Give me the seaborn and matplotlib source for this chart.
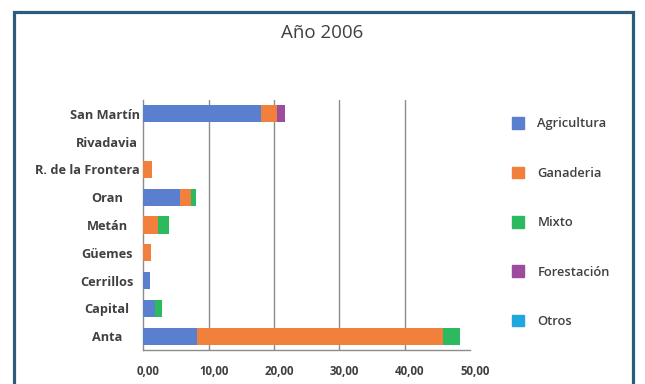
import pandas as pd
import seaborn as sns
import matplotlib.pyplot as plt
from matplotlib.patches import Rectangle, Patch
from matplotlib.transforms import ScaledTranslation

# datos (Año 2006)
departamentos = ["San Martín", "Rivadavia", "R. de la Frontera", "Oran", "Metán",
                 "Güemes", "Cerrillos", "Capital", "Anta"]
agricultura = [18.0, 0.0, 0.0, 5.6, 0.0, 0.0, 1.0, 1.8, 8.2]
ganaderia = [2.5, 0.0, 1.3, 1.7, 2.3, 1.2, 0.0, 0.0, 37.7]
mixto = [0.0, 0.0, 0.0, 0.8, 1.6, 0.0, 0.0, 1.1, 2.5]
forestacion = [1.2, 0.0, 0.0, 0.0, 0.0, 0.0, 0.0, 0.0, 0.0]
otros = [0.0, 0.0, 0.0, 0.0, 0.0, 0.0, 0.0, 0.0, 0.0]

series = ["Agricultura", "Ganaderia", "Mixto", "Forestación", "Otros"]
colores = ["#5b7fcf", "#f0803c", "#2dba5e", "#9d4c9d", "#1fa8e0"]
xticks = [0, 10, 20, 30, 40, 50]

df = pd.DataFrame({"Agricultura": agricultura, "Ganaderia": ganaderia, "Mixto": mixto,
                   "Forestación": forestacion, "Otros": otros}, index=departamentos)
acum = df[series].cumsum(axis=1)

sns.set_style("white")
plt.rcParams["font.family"] = ["Open Sans", "DejaVu Sans"]

fig = plt.figure(figsize=(6.45, 3.84), dpi=100)
ax = fig.add_axes([0.222, 0.088, 0.507, 0.652])

# barras apiladas: se dibuja el acumulado de atras hacia adelante
for s, c in reversed(list(zip(series, colores))):
    d = pd.DataFrame({"dep": departamentos, "val": acum[s].values})
    sns.barplot(data=d, y="dep", x="val", order=departamentos, color=c,
                width=0.62, saturation=1, linewidth=0, ax=ax, zorder=3)

ax.set_xlim(0, 50)
ax.set_ylim(8.5, -0.5)
ax.set_xticks(xticks)
ax.set_xticklabels([f"{t:.2f}".replace(".", ",") for t in xticks])
ax.set_xlabel("")
ax.set_ylabel("")
# lineas de division solo en 10..40
for t in xticks[1:-1]:
    ax.axvline(t, color="#8c8c8c", linewidth=1, zorder=0)
ax.tick_params(axis="x", length=4, color="#8c8c8c", pad=7, labelsize=8.3, labelcolor="#404040")
ax.tick_params(axis="y", length=0, pad=26, labelsize=9.2, labelcolor="#404040")
for lab in ax.get_xticklabels():
    lab.set_fontweight("bold")
    lab.set_transform(lab.get_transform() + ScaledTranslation(5 / 100, 0, fig.dpi_scale_trans))
for lab in ax.get_yticklabels():
    lab.set_fontweight("bold")
    lab.set_horizontalalignment("center")

# etiquetas centradas, pero sin pasar del eje (la mas larga se corre a la izquierda)
fig.canvas.draw()
renderer = fig.canvas.get_renderer()
x_eje = ax.transAxes.transform((0, 0))[0]
for lab in ax.get_yticklabels():
    bb = lab.get_window_extent(renderer)
    exceso = bb.x1 - (x_eje - 3)
    if exceso > 0:
        lab.set_transform(lab.get_transform() + ScaledTranslation(-exceso / 100, 0, fig.dpi_scale_trans))

for side in ["top", "right"]:
    ax.spines[side].set_visible(False)
for side in ["left", "bottom"]:
    ax.spines[side].set_color("#8c8c8c")
    ax.spines[side].set_linewidth(1)

fig.text(0.5, 0.915, "Año 2006", ha="center", va="center", fontsize=13.5, color="#404040")

handles = [Patch(facecolor=c, edgecolor=c) for c in colores]
fig.legend(handles, series, loc="upper left", bbox_to_anchor=(0.775, 0.725), frameon=False,
           handlelength=1.0, handleheight=1.0, handletextpad=1.0, labelspacing=2.8,
           prop={"size": 9.3, "weight": "semibold"}, labelcolor="#404040")

# marco azul del recuadro
fig.patches.append(Rectangle((0.021, -0.05), 0.961, 1.019, transform=fig.transFigure,
                             fill=False, edgecolor="#2d5b7b", linewidth=2.3))

fig.savefig("out.png", dpi=100, facecolor="white")
